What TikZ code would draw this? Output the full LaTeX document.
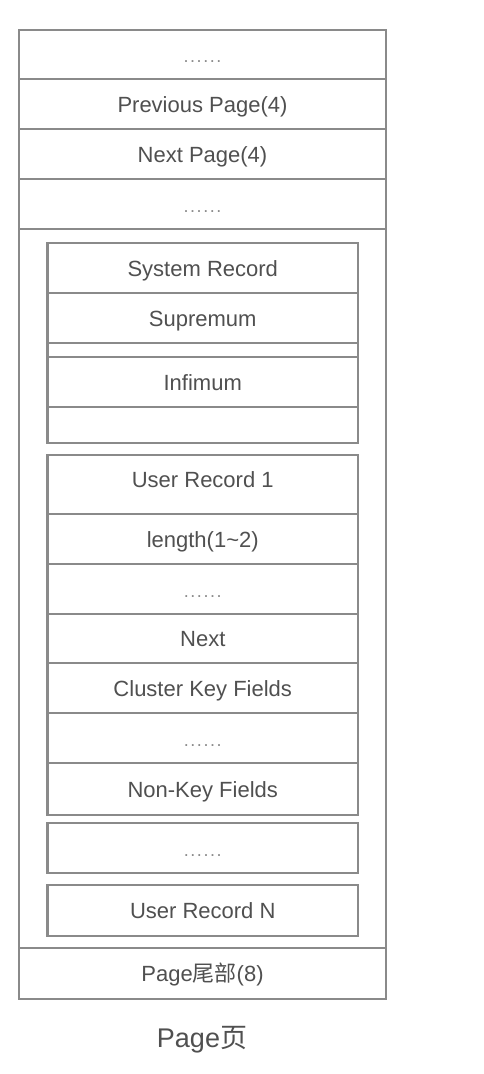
\documentclass[tikz,border=0pt]{standalone}
\usepackage{fontspec}
\setmainfont{Liberation Sans}
\newfontfamily\cjk{Noto Sans CJK SC}
\definecolor{linegray}{HTML}{8A8A8A}
\definecolor{textgray}{HTML}{505050}
\definecolor{dotgray}{HTML}{8C8C8C}
\newcommand{\sixdots}{.\kern1.5pt.\kern1.5pt.\kern1.5pt.\kern1.5pt.\kern1.5pt.}
\begin{document}
\begin{tikzpicture}[x=1pt,y=-1pt,
  cell/.style={draw=linegray, line width=2.5pt, rectangle, inner sep=0pt, text=textgray,
    font=\fontsize{22}{26}\selectfont, text height=18pt, text depth=2pt},
  dotcell/.style={cell, text=dotgray, font=\fontsize{18}{22}\selectfont},
  emptycell/.style={cell, text height=0pt, text depth=0pt},
  outerw/.style={minimum width=367pt},
  innerw/.style={minimum width=310.5pt}]
\useasboundingbox (0,0) rectangle (484,1074);
\fill[white] (0,0) rectangle (484,1074);
% outer page
\node[dotcell, outerw, minimum height=49pt] (r1) at (202.5,54.5) {\sixdots};
\node[cell, outerw, minimum height=50pt] (r2) at (202.5,104) {Previous Page(4)};
\node[cell, outerw, minimum height=50pt] (r3) at (202.5,154) {Next Page(4)};
\node[dotcell, outerw, minimum height=50pt] (r4) at (202.5,204) {\sixdots};
\node[emptycell, outerw, minimum height=719pt] (body) at (202.5,588.5) {};
\node[cell, outerw, minimum height=51pt] (foot) at (202.5,973.5) {Page{\cjk 尾部}(8)};
% system records
\node[cell, innerw, minimum height=50pt] (sys) at (202.75,268) {System Record};
\node[cell, innerw, minimum height=50pt] (sup) at (202.75,318) {Supremum};
\node[emptycell, innerw, minimum height=14pt] (gap) at (202.75,350) {};
\node[cell, innerw, minimum height=50pt] (inf) at (202.75,382) {Infimum};
\node[emptycell, innerw, minimum height=36pt] (emp) at (202.75,425) {};
% user record 1
\node[cell, innerw, minimum height=59pt, text depth=12pt] (ur1) at (202.75,484.5) {User Record 1};
\node[cell, innerw, minimum height=50pt] (len) at (202.75,539) {length(1\textasciitilde 2)};
\node[dotcell, innerw, minimum height=50pt] (d1) at (202.75,589) {\sixdots};
\node[cell, innerw, minimum height=49pt] (nxt) at (202.75,638.5) {Next};
\node[cell, innerw, minimum height=50pt] (ckf) at (202.75,688) {Cluster Key Fields};
\node[dotcell, innerw, minimum height=50pt] (d2) at (202.75,738) {\sixdots};
\node[cell, innerw, minimum height=52pt] (nkf) at (202.75,789) {Non-Key Fields};
% more records
\node[dotcell, innerw, minimum height=50pt] (d3) at (202.75,848) {\sixdots};
\node[cell, innerw, minimum height=51pt] (urn) at (202.75,910.5) {User Record N};
% caption
\node[text=textgray, font=\fontsize{27}{32}\selectfont, inner sep=0pt] (cap) at (202,1040) {Page{\cjk 页}};
\end{tikzpicture}
\end{document}
